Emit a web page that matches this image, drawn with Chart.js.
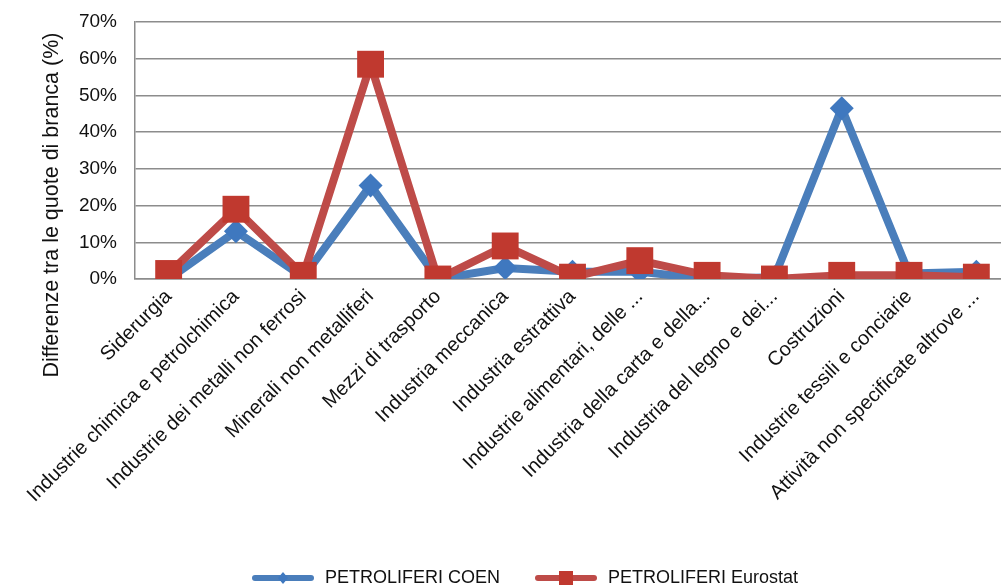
<!DOCTYPE html>
<html>
<head>
<meta charset="utf-8">
<script src="https://cdn.jsdelivr.net/npm/chart.js@4.4.0/dist/chart.umd.min.js"></script>
<style>
    html, body { margin: 0; padding: 0; background: #fff; overflow: hidden; }
</style>
</head>
<body>
<canvas id="myChart" width="1029" height="585"></canvas>
<script>
const categories = [
    'Siderurgia',
    'Industrie chimica e petrolchimica',
    'Industrie dei metalli non ferrosi',
    'Minerali non metalliferi',
    'Mezzi di trasporto',
    'Industria meccanica',
    'Industria estrattiva',
    'Industrie alimentari, delle ...',
    'Industria della carta e della...',
    'Industria del legno e dei...',
    'Costruzioni',
    'Industrie tessili e conciarie',
    'Attività non specificate altrove ...'
];
const coenValues = [0, 13, 0.5, 25.5, 0, 3, 2, 2, 0, 0.5, 46.5, 1.5, 2];
const eurostatValues = [1.5, 19, 1, 58.5, 0, 9, 0.5, 5, 1, 0, 1, 1, 0.5];
const yTicks = [0, 10, 20, 30, 40, 50, 60, 70];
const yTitle = 'Differenze tra le quote di branca (%)';

const blueLine = '#4A7EBB';
const blueMark = '#3F78BF';
const redLine = '#BE4B48';
const redMark = '#C0392F';
const fontFamily = "'Liberation Sans', 'DejaVu Sans', sans-serif";

// legend icons: thick line with the marker in the middle, blank space on the left
function legendIcon(lineColor, markColor, square) {
    const c = document.createElement('canvas');
    c.width = 85;
    c.height = 18;
    const ctx = c.getContext('2d');
    ctx.strokeStyle = lineColor;
    ctx.lineWidth = 6;
    ctx.lineCap = 'round';
    ctx.beginPath();
    ctx.moveTo(24, 9);
    ctx.lineTo(80, 9);
    ctx.stroke();
    ctx.fillStyle = markColor;
    ctx.beginPath();
    if (square) {
        ctx.rect(45, 2, 14, 14);
    } else {
        ctx.moveTo(52, 3);
        ctx.lineTo(57, 9);
        ctx.lineTo(52, 15);
        ctx.lineTo(47, 9);
        ctx.closePath();
    }
    ctx.fill();
    return c;
}
const icons = [legendIcon(blueLine, blueMark, false), legendIcon(redLine, redMark, true)];

// y axis title drawn lower than the axis centre, like the original
const yTitlePlugin = {
    id: 'yTitle',
    afterDraw(chart) {
        const ctx = chart.ctx;
        ctx.save();
        ctx.translate(52, 205);
        ctx.rotate(-Math.PI / 2);
        ctx.font = '21.5px ' + fontFamily;
        ctx.fillStyle = '#111';
        ctx.textAlign = 'center';
        ctx.textBaseline = 'middle';
        ctx.fillText(yTitle, 0, 0);
        ctx.restore();
    }
};

const chartData = {
    labels: categories,
    datasets: [{
        label: 'PETROLIFERI COEN',
        data: coenValues,
        borderColor: blueLine,
        backgroundColor: blueMark,
        borderWidth: 8,
        pointStyle: 'rectRot',
        pointRadius: 12,
        pointBorderWidth: 0,
        order: 1
    }, {
        label: 'PETROLIFERI Eurostat',
        data: eurostatValues,
        borderColor: redLine,
        backgroundColor: redMark,
        borderWidth: 8,
        pointStyle: 'rect',
        pointRadius: 19,
        pointBorderWidth: 0,
        order: 0
    }]
};

const config = {
    type: 'line',
    data: chartData,
    plugins: [yTitlePlugin],
    options: {
        responsive: false,
        animation: false,
        layout: {
            padding: { top: 22, right: 0, bottom: -12, left: 0 }
        },
        scales: {
            x: {
                offset: true,
                grid: { display: false, drawTicks: false },
                border: { color: '#8c8c8c', width: 1.5 },
                ticks: {
                    minRotation: 45,
                    maxRotation: 45,
                    autoSkip: false,
                    padding: 6,
                    color: '#111',
                    font: { family: fontFamily, size: 20 }
                },
                afterFit: scale => { scale.height = 276; }
            },
            y: {
                min: 0,
                max: 70,
                afterBuildTicks: scale => { scale.ticks = yTicks.map(v => ({ value: v })); },
                grid: { color: '#8c8c8c', lineWidth: 1.5, drawTicks: false },
                border: { color: '#8c8c8c', width: 1.5 },
                ticks: {
                    padding: 18,
                    color: '#111',
                    font: { family: fontFamily, size: 19 },
                    callback: v => v + '%'
                },
                afterFit: scale => {
                    scale.width = 135;
                    scale.paddingTop = 0;
                    scale.paddingBottom = 0;
                }
            }
        },
        plugins: {
            legend: {
                position: 'bottom',
                labels: {
                    usePointStyle: true,
                    pointStyleWidth: 85,
                    color: '#111',
                    padding: 14,
                    font: { family: fontFamily, size: 18 },
                    sort: (a, b) => a.datasetIndex - b.datasetIndex,
                    generateLabels: chart => {
                        const items = Chart.defaults.plugins.legend.labels.generateLabels(chart);
                        items.forEach(item => { item.pointStyle = icons[item.datasetIndex]; });
                        return items;
                    }
                }
            },
            tooltip: { enabled: false }
        }
    }
};

const chart = new Chart(document.getElementById('myChart'), config);
</script>
</body>
</html>
